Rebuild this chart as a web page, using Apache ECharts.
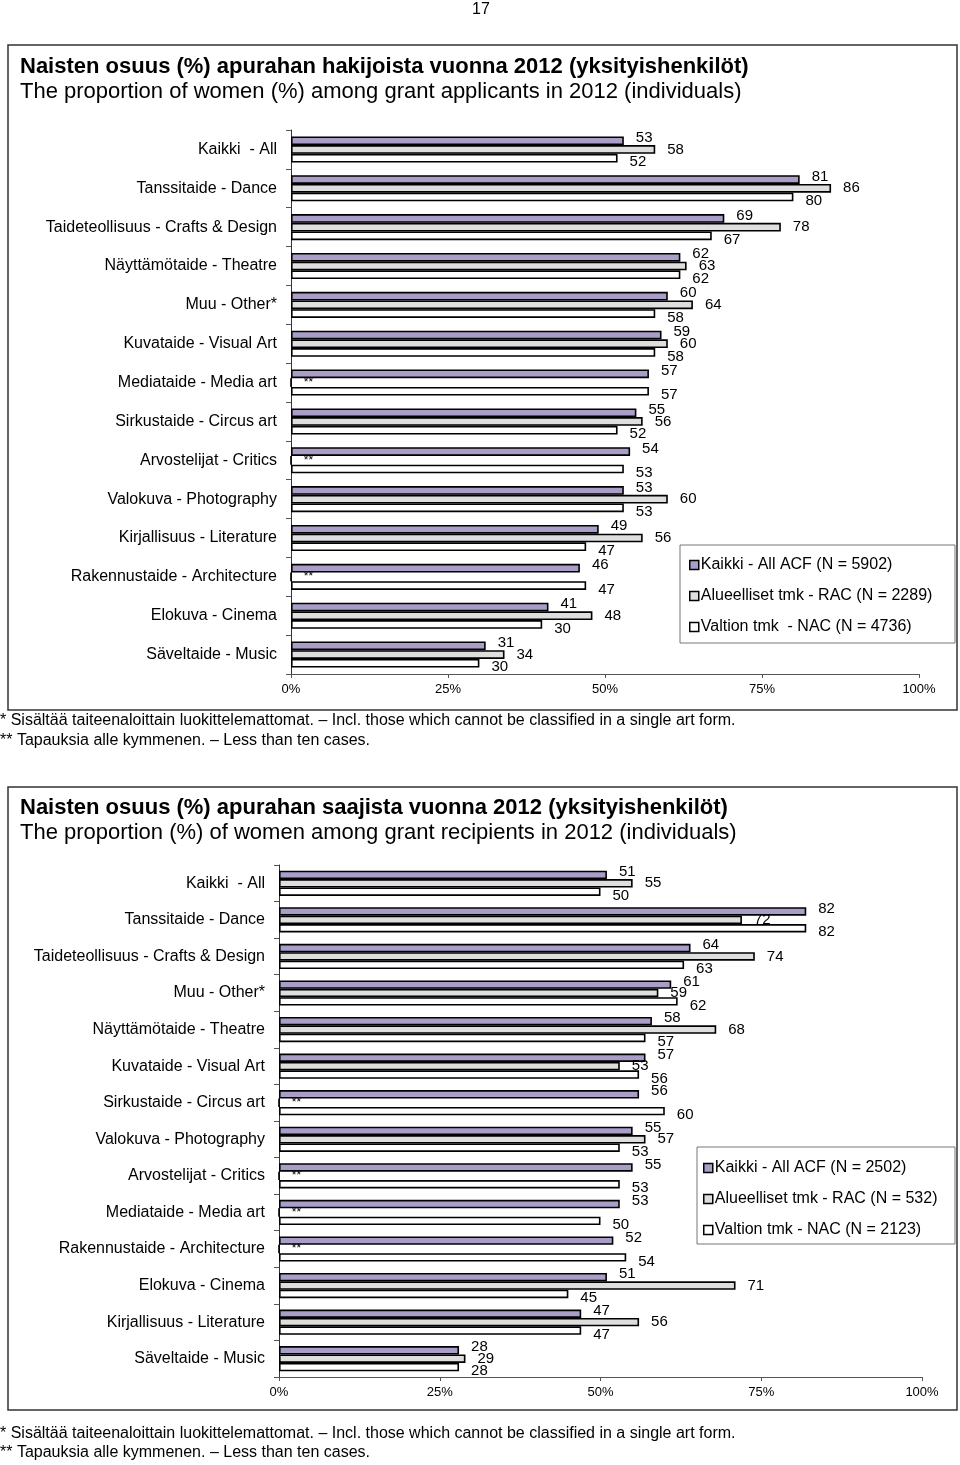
<!DOCTYPE html>
<html><head><meta charset="utf-8">
<script src="https://cdn.jsdelivr.net/npm/echarts@6/dist/echarts.min.js"></script>
<style>html,body{margin:0;padding:0;background:#fff}#c{width:960px;height:1465px}</style>
</head><body><div id="c"></div>
<script>
const FONT = '"Liberation Sans", Arial, Helvetica, sans-serif';

// ---- Chart 1: applicants ----
const appCategories = ['Kaikki  - All','Tanssitaide - Dance','Taideteollisuus - Crafts & Design','Näyttämötaide - Theatre','Muu - Other*','Kuvataide - Visual Art','Mediataide - Media art','Sirkustaide - Circus art','Arvostelijat - Critics','Valokuva - Photography','Kirjallisuus - Literature','Rakennustaide - Architecture','Elokuva - Cinema','Säveltaide - Music'];
const appAll = [53,81,69,62,60,59,57,55,54,53,49,46,41,31];
const appRAC = [58,86,78,63,64,60,null,56,null,60,56,null,48,34];
const appNAC = [52,80,67,62,58,58,57,52,53,53,47,47,40,30];
const appNACPrinted = {12: '30'};   // printed label differs from drawn bar in the source
const appNames = ['Kaikki - All ACF (N = 5902)','Alueelliset tmk - RAC (N = 2289)','Valtion tmk  - NAC (N = 4736)'];

// ---- Chart 2: recipients ----
const recCategories = ['Kaikki  - All','Tanssitaide - Dance','Taideteollisuus - Crafts & Design','Muu - Other*','Näyttämötaide - Theatre','Kuvataide - Visual Art','Sirkustaide - Circus art','Valokuva - Photography','Arvostelijat - Critics','Mediataide - Media art','Rakennustaide - Architecture','Elokuva - Cinema','Kirjallisuus - Literature','Säveltaide - Music'];
const recAll = [51,82,64,61,58,57,56,55,55,53,52,51,47,28];
const recRAC = [55,72,74,59,68,53,null,57,null,null,null,71,56,29];
const recNAC = [50,82,63,62,57,56,60,53,53,50,54,45,47,28];
const recNames = ['Kaikki - All ACF (N = 2502)','Alueelliset tmk - RAC (N = 532)','Valtion tmk - NAC (N = 2123)'];

const xTicks = [0,25,50,75,100];

const COLORS = ['#aa9ec8','#dedede','#ffffff'];

function makeSeries(name, values, colorIdx, axisIdx, printed, offsetY, barW) {
  return {
    name, type: 'bar',
    xAxisIndex: axisIdx, yAxisIndex: axisIdx,
    barWidth: barW, barGap: '0%',
    data: values.map(v => v === null ? 0 : v),
    itemStyle: {color: COLORS[colorIdx], borderColor: '#000', borderWidth: 1.6},
    label: {
      show: true, position: 'right', distance: 12,
      offset: [0, offsetY],
      fontFamily: FONT, fontSize: 15, color: '#000',
      formatter: p => {
        if (values[p.dataIndex] === null) return '{s|**}';
        if (printed && printed[p.dataIndex] !== undefined) return printed[p.dataIndex];
        return String(p.value);
      },
      rich: {s: {fontSize: 12, fontFamily: FONT, color: '#000', padding: [0,0,0,0]}}
    },
    animation: false
  };
}

function catAxis(cats, gi) {
  return {
    type: 'category', gridIndex: gi, data: cats, inverse: true,
    axisLine: {lineStyle: {color: '#333', width: 1}},
    axisTick: {show: true, length: 5, lineStyle: {color: '#555'}},
    axisLabel: {fontFamily: FONT, fontSize: 16, color: '#000', margin: 14}
  };
}
function valAxis(gi) {
  return {
    type: 'value', gridIndex: gi, min: xTicks[0], max: xTicks[xTicks.length-1], interval: 25,
    splitLine: {show: false},
    axisLine: {show: true, lineStyle: {color: '#555', width: 1}},
    axisTick: {show: true, length: 4, lineStyle: {color: '#555'}},
    axisLabel: {fontFamily: FONT, fontSize: 13, color: '#000', margin: 9, formatter: '{value}%'}
  };
}

const footnote1 = '* Sisältää taiteenaloittain luokittelemattomat. – Incl. those which cannot be classified in a single art form.';
const footnote2 = '** Tapauksia alle kymmenen. – Less than ten cases.';

function txt(x, y, text, size, weight) {
  return {type: 'text', x, y, silent: true,
    style: {text, fontFamily: FONT, fontSize: size, fontWeight: weight || 'normal', fill: '#000', verticalAlign: 'middle'}};
}
function box(x, y, w, h, stroke, lw) {
  return {type: 'rect', shape: {x, y, width: w, height: h}, silent: true, z: -1,
    style: {fill: 'none', stroke, lineWidth: lw}};
}

const option = {
  backgroundColor: '#fff',
  animation: false,
  grid: [
    {left: 291, right: 41, top: 130, height: 544},
    {left: 279, right: 38, top: 865, height: 512}
  ],
  xAxis: [valAxis(0), valAxis(1)],
  yAxis: [catAxis(appCategories, 0), catAxis(recCategories, 1)],
  legend: [
    {data: appNames, orient: 'vertical', left: 684, top: 552, itemGap: 15, itemWidth: 9, itemHeight: 9,
     selectedMode: false, icon: 'rect',
     itemStyle: {borderColor: '#000', borderWidth: 1.5},
     textStyle: {fontFamily: FONT, fontSize: 16, color: '#000', padding: [0,0,0,-3]}},
    {data: recNames, orient: 'vertical', left: 698, top: 1155, itemGap: 15, itemWidth: 9, itemHeight: 9,
     selectedMode: false, icon: 'rect',
     itemStyle: {borderColor: '#000', borderWidth: 1.5},
     textStyle: {fontFamily: FONT, fontSize: 16, color: '#000', padding: [0,0,0,-3]}}
  ],
  series: [
    makeSeries(appNames[0], appAll, 0, 0, null, -3, 8.7),
    makeSeries(appNames[1], appRAC, 1, 0, null, 0, 8.7),
    makeSeries(appNames[2], appNAC, 2, 0, appNACPrinted, 4, 8.7),
    makeSeries(recNames[0], recAll, 0, 1, null, -3, 8.4),
    makeSeries(recNames[1], recRAC, 1, 1, null, 0, 8.4),
    makeSeries(recNames[2], recNAC, 2, 1, null, 4, 8.4)
  ],
  graphic: [
    {type: 'text', x: 481, y: 10, silent: true,
     style: {text: '17', fontFamily: FONT, fontSize: 16, fill: '#000', align: 'center', verticalAlign: 'middle'}},
    box(8, 45, 949, 665, '#333', 1.5),
    box(8, 787, 949, 623, '#333', 1.5),
    box(680, 545, 275, 98, '#777', 1),
    box(697, 1147, 258, 97, '#777', 1),
    txt(20, 67, 'Naisten osuus (%) apurahan hakijoista vuonna 2012 (yksityishenkilöt)', 22, 'bold'),
    txt(20, 92, 'The proportion of women (%) among grant applicants in 2012 (individuals)', 22),
    txt(20, 808, 'Naisten osuus (%) apurahan saajista vuonna 2012 (yksityishenkilöt)', 22, 'bold'),
    txt(20, 833, 'The proportion (%) of women among grant recipients in 2012 (individuals)', 22),
    txt(0, 721, footnote1, 16),
    txt(0, 741, footnote2, 16),
    txt(0, 1434, footnote1, 16),
    txt(0, 1453, footnote2, 16)
  ]
};

const chart = echarts.init(document.getElementById('c'));
chart.setOption(option);
</script>
</body></html>
